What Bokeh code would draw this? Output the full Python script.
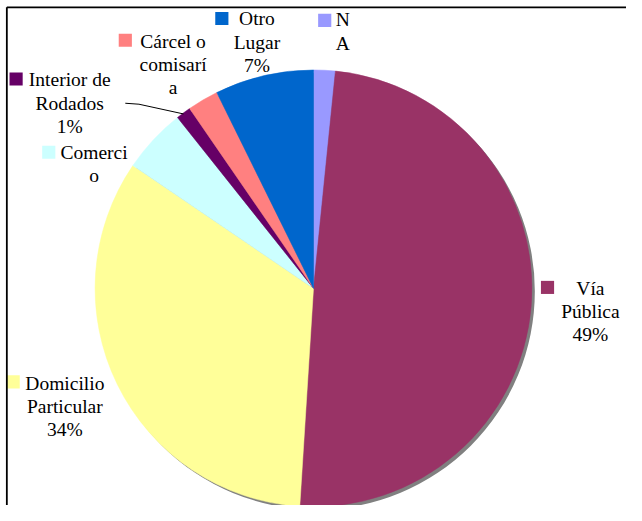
import math
from bokeh.plotting import figure
from bokeh.models import Range1d, ColumnDataSource
from bokeh.core.properties import value
from bokeh.embed import file_html
from bokeh.resources import INLINE

# ---- data ----
categories = ["NA", "Vía Pública", "Domicilio Particular", "Comercio",
              "Interior de Rodados", "Cárcel o comisaría", "Otro Lugar"]
percent = [1.6, 49.4, 33.5, 4.8, 1.1, 2.3, 7.3]
colors = ["#9999FF", "#993366", "#FFFF99", "#CCFFFF", "#660066", "#FF8080", "#0066CC"]
label_lines = [["N", "A"],
               ["Vía", "Pública", "49%"],
               ["Domicilio", "Particular", "34%"],
               ["Comerci", "o"],
               ["Interior de", "Rodados", "1%"],
               ["Cárcel o", "comisarí", "a"],
               ["Otro", "Lugar", "7%"]]

# ---- layout (reference pixel coordinates) ----
CX, CY, R = 321, 297, 224
label_anchor = [(351, 20), (605, 297), (66, 395), (96, 157), (71, 82), (177, 42), (263, 19)]
key_pos = [(332.5, 20.5), (561, 296), (13, 393.5), (49.5, 156.5), (16, 81), (128, 41), (227, 18.5)]
LINE_H = 24

p = figure(width=626, height=505, output_backend="svg", toolbar_location=None,
           x_range=Range1d(0, 642), y_range=Range1d(-521, 0), min_border=0)
p.axis.visible = False
p.grid.visible = False
p.outline_line_color = None
p.background_fill_color = "white"
p.border_fill_color = "white"

# wedges
total = sum(percent)
starts, ends = [], []
c = 0.0
for v in percent:
    c0 = c / total
    c += v
    c1 = c / total
    starts.append(math.pi / 2 - 2 * math.pi * c0)
    ends.append(math.pi / 2 - 2 * math.pi * c1)

# shadow
p.circle(x=[CX + 3], y=[-(CY + 3)], radius=R, fill_color="#808080", line_color=None)

src = ColumnDataSource(dict(x=[CX] * len(percent), y=[-CY] * len(percent),
                            start=starts, end=ends, color=colors, cat=categories))
p.wedge(x="x", y="y", radius=R, start_angle="start", end_angle="end", direction="clock",
        fill_color="color", line_color="color", line_width=0.5, source=src)

# leader line for Interior de Rodados
i = categories.index("Interior de Rodados")
mid = (starts[i] + ends[i]) / 2
ex, ey = CX + R * math.cos(mid), -CY + R * math.sin(mid)
p.line([128, 142, ex], [-106, -107, ey], line_color="black", line_width=1)

# legend keys
p.rect(x=[k[0] for k in key_pos], y=[-k[1] for k in key_pos], width=13.5, height=13.5,
       fill_color=colors, line_color=None)

# labels
tx, ty, tt = [], [], []
for (ax, ay), lines in zip(label_anchor, label_lines):
    for j, ln in enumerate(lines):
        tx.append(ax)
        ty.append(-(ay + j * LINE_H))
        tt.append(ln)
p.text(x=tx, y=ty, text=tt, text_font=value("'Liberation Serif', 'Times New Roman', serif"),
       text_font_size="19.5px", text_align="center", text_baseline="middle", text_color="black")

# chart-area border (left and top)
p.line([6.5, 6.5], [-521, -7], line_color="black", line_width=1.8)
p.line([6.5, 642], [-7, -7], line_color="black", line_width=1.8)

open("out.html", "w").write(file_html(p, INLINE))
